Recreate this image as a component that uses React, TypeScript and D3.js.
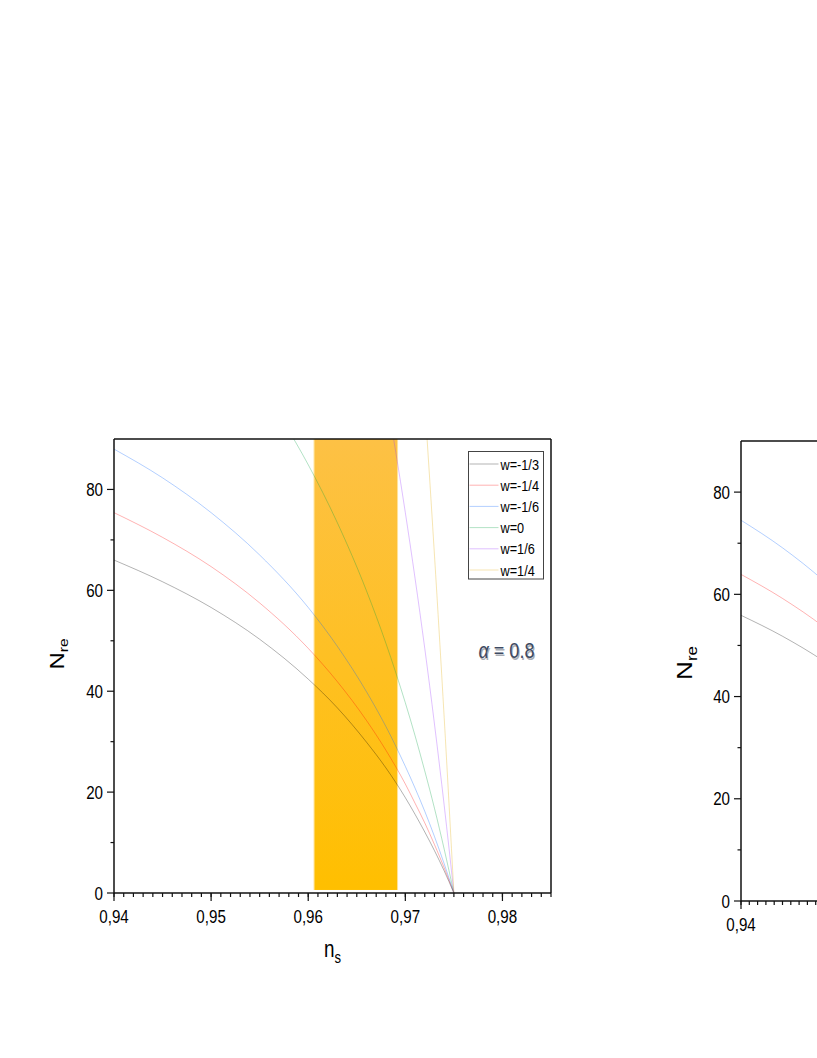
import React from 'react';
import * as d3 from 'd3';

// n_s sample points
const nsGrid = [0.94, 0.945, 0.95, 0.955, 0.96, 0.963, 0.966, 0.968, 0.97, 0.971, 0.972, 0.973, 0.974, 0.975];
const nreWm13 = [66.0, 61.7, 56.6, 50.3, 42.4, 36.7, 29.9, 24.8, 18.9, 15.6, 12.1, 8.4, 4.4, 0];
const nreWm14 = [75.4, 70.5, 64.7, 57.5, 48.5, 41.9, 34.2, 28.3, 21.6, 17.8, 13.9, 9.6, 5.0, 0];
const nreWm16 = [88.0, 82.3, 75.4, 67.0, 56.6, 48.9, 39.9, 33.0, 25.1, 20.8, 16.2, 11.2, 5.8, 0];
const nreW0 = [132.0, 123.4, 113.1, 100.6, 84.9, 73.4, 59.9, 49.5, 37.7, 31.2, 24.2, 16.8, 8.7, 0];
const nreW16 = [264, 246.9, 226.3, 201.1, 169.7, 146.8, 119.8, 99.0, 75.4, 62.4, 48.5, 33.5, 17.4, 0];
const nreW14 = [528, 493.7, 452.6, 402.3, 339.4, 293.6, 239.6, 198.0, 150.9, 124.8, 97.0, 67.0, 34.8, 0];

// right panel (only its left edge is in the picture)
const rightNsGrid = [0.94, 0.945, 0.95, 0.955];
const rightWm13 = [55.9, 51.8, 46.9, 40.9];
const rightWm14 = [63.9, 59.2, 53.6, 46.8];
const rightWm16 = [74.5, 69.1, 62.6, 54.6];

const seriesLabels = ['w=-1/3', 'w=-1/4', 'w=-1/6', 'w=0', 'w=1/6', 'w=1/4'];
const seriesColors = ['#000000', '#ff0000', '#0060ff', '#00a040', '#9933ff', '#e0a800'];

const bandNs = [0.9606, 0.9692];
const bandNre = [0.6, 90];

const xMajorTicks = [0.94, 0.95, 0.96, 0.97, 0.98];
const yMajorTicks = [0, 20, 40, 60, 80];
const yMinorTicks = [10, 30, 50, 70];
const alphaLabel = '0.8';

const W = 817, H = 1058;
const FONT = '"Liberation Sans", Arial, sans-serif';
const SQ = 0.82; // the figure is squeezed horizontally
const fmt = (v: number) => d3.format('.2f')(v).replace('.', ',');

function T({x, y, size, anchor = 'middle', rotate = 0, children, fill = '#000'}: any) {
  return (
    <text
      transform={`translate(${x},${y}) scale(${SQ},1)${rotate ? ` rotate(${rotate})` : ''}`}
      fontSize={size}
      fontFamily={FONT}
      textAnchor={anchor}
      fill={fill}
    >
      {children}
    </text>
  );
}

function Panel({id, box, xDomain, grid, series, showLegend, titleX, titleY, titleSize, xTitle}: any) {
  const x = d3.scaleLinear().domain(xDomain).range([box.left, box.right]);
  const y = d3.scaleLinear().domain([0, 90]).range([box.bottom, box.top]);
  const line = d3.line<number>()
    .x((_, i) => x(grid[i]))
    .y(d => y(d))
    .curve(d3.curveMonotoneX);
  const minor = d3.range(Math.round(xDomain[0] * 1000), Math.round(xDomain[1] * 1000) + 1).map(v => v / 1000);
  const ticksX = xMajorTicks.filter(t => t <= xDomain[1]);
  // only labels that fit in the page
  const labelsX = ticksX.filter(t => x(t) + 15 <= W);

  return (
    <g>
      <defs>
        <clipPath id={`clip-${id}`}>
          <rect x={box.left} y={box.top} width={box.right - box.left} height={box.bottom - box.top}/>
        </clipPath>
        <linearGradient id={`band-${id}`} x1="0" y1="0" x2="0" y2="1">
          <stop offset="0%" stopColor="#fdc145"/>
          <stop offset="100%" stopColor="#ffbf00"/>
        </linearGradient>
      </defs>

      {showLegend && (
        <g>
          <rect x={x(bandNs[0])} y={y(bandNre[1])} width={x(bandNs[1]) - x(bandNs[0])}
                height={y(bandNre[0]) - y(bandNre[1])} fill={`url(#band-${id})`}/>
          <line x1={x(bandNs[0])} x2={x(bandNs[0])} y1={y(bandNre[1])} y2={y(bandNre[0])} stroke="#ffe39a" strokeWidth={1}/>
          <line x1={x(bandNs[1])} x2={x(bandNs[1])} y1={y(bandNre[1])} y2={y(bandNre[0])} stroke="#ffe39a" strokeWidth={1}/>
        </g>
      )}

      <g clipPath={`url(#clip-${id})`}>
        {series.map((s: number[], i: number) => (
          <path key={i} d={line(s) || ''} fill="none" stroke={seriesColors[i]} strokeOpacity={0.3} strokeWidth={1}/>
        ))}
      </g>

      {/* frame */}
      <g stroke="#111" strokeWidth={1.5} fill="none">
        <line x1={box.left} x2={box.right} y1={box.bottom} y2={box.bottom}/>
        <line x1={box.left} x2={box.right} y1={box.top} y2={box.top}/>
        <line x1={box.left} x2={box.left} y1={box.top} y2={box.bottom + 0.75}/>
        <line x1={box.right} x2={box.right} y1={box.top} y2={box.bottom}/>
      </g>

      {/* x ticks */}
      <g stroke="#111" strokeWidth={1.2}>
        {minor.map(t => <line key={t} x1={x(t)} x2={x(t)} y1={box.bottom} y2={box.bottom + 4}/>)}
        {ticksX.map(t => <line key={t} x1={x(t)} x2={x(t)} y1={box.bottom} y2={box.bottom + 8}/>)}
      </g>
      {labelsX.map(t => (
        <T key={t} x={x(t)} y={box.bottom + 30} size={18.5}>{fmt(t)}</T>
      ))}

      {/* y ticks */}
      <g stroke="#111" strokeWidth={1.2}>
        {yMajorTicks.map(t => <line key={t} x1={box.left - 7} x2={box.left} y1={y(t)} y2={y(t)}/>)}
        {yMinorTicks.map(t => <line key={t} x1={box.left - 3.5} x2={box.left} y1={y(t)} y2={y(t)}/>)}
      </g>
      {yMajorTicks.map(t => (
        <T key={t} x={box.left - 11} y={y(t) + 6.5} size={18.5} anchor="end">{t}</T>
      ))}

      <T x={titleX} y={titleY} size={titleSize} rotate={-90}>
        N<tspan fontSize={titleSize * 0.65} dy={titleSize * 0.22}>re</tspan>
      </T>

      {xTitle && (
        <T x={(box.left + box.right) / 2} y={box.bottom + 64} size={23}>
          n<tspan fontSize={16} dy={6}>s</tspan>
        </T>
      )}

      {showLegend && (
        <g>
          <rect x={468.5} y={451.5} width={75} height={127.5} fill="#fff" stroke="#444" strokeWidth={1}/>
          {seriesLabels.map((lab, i) => (
            <g key={lab}>
              <line x1={469.5} x2={498.5} y1={464 + i * 21.2} y2={464 + i * 21.2}
                    stroke={seriesColors[i]} strokeOpacity={0.3} strokeWidth={1}/>
              <T x={500.5} y={469.5 + i * 21.2} size={15.5} anchor="start">{lab}</T>
            </g>
          ))}
          <T x={507.5} y={659.5} size={22} fill="#a9adb5">
            <tspan fontStyle="italic">α</tspan> = {alphaLabel}
          </T>
          <T x={506.5} y={658} size={22} fill="#3e4a62">
            <tspan fontStyle="italic">α</tspan> = {alphaLabel}
          </T>
        </g>
      )}
    </g>
  );
}

export default function App() {
  return (
    <svg width={W} height={H} style={{position: 'absolute', left: 0, top: 0, background: '#fff'}}>
      <rect width={W} height={H} fill="#fff"/>
      <Panel
        id="left"
        box={{left: 114, right: 551, top: 439, bottom: 893}}
        xDomain={[0.94, 0.985]}
        grid={nsGrid}
        series={[nreWm13, nreWm14, nreWm16, nreW0, nreW16, nreW14]}
        showLegend
        titleX={64}
        titleY={654}
        titleSize={24}
        xTitle
      />
      <Panel
        id="right"
        box={{left: 741, right: 1114.5, top: 441, bottom: 901}}
        xDomain={[0.94, 0.985]}
        grid={rightNsGrid}
        series={[rightWm13, rightWm14, rightWm16]}
        showLegend={false}
        titleX={692}
        titleY={663}
        titleSize={26}
        xTitle={false}
      />
    </svg>
  );
}
